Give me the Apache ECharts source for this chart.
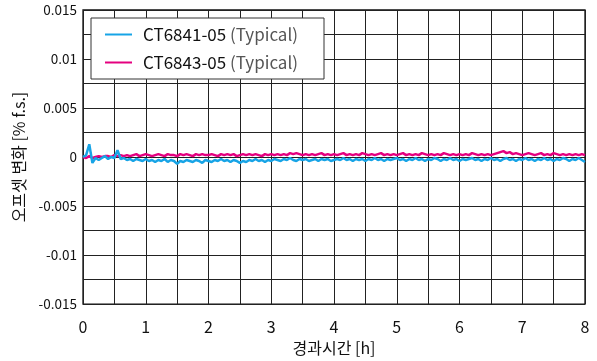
<!DOCTYPE html>
<html><head><meta charset="utf-8">
<script src="https://cdn.jsdelivr.net/npm/echarts@6/dist/echarts.min.js"></script>
<style>html,body{margin:0;padding:0;background:#fff}#c{width:597px;height:361px}</style>
</head><body><div id="c"></div>
<script>
const times = [0,0.05,0.1,0.15,0.2,0.25,0.3,0.35,0.4,0.45,0.5,0.55,0.6,0.65,0.7,0.75,0.8,0.85,0.9,0.95,
1,1.05,1.1,1.15,1.2,1.25,1.3,1.35,1.4,1.45,1.5,1.55,1.6,1.65,1.7,1.75,1.8,1.85,1.9,1.95,
2,2.05,2.1,2.15,2.2,2.25,2.3,2.35,2.4,2.45,2.5,2.55,2.6,2.65,2.7,2.75,2.8,2.85,2.9,2.95,
3,3.05,3.1,3.15,3.2,3.25,3.3,3.35,3.4,3.45,3.5,3.55,3.6,3.65,3.7,3.75,3.8,3.85,3.9,3.95,
4,4.05,4.1,4.15,4.2,4.25,4.3,4.35,4.4,4.45,4.5,4.55,4.6,4.65,4.7,4.75,4.8,4.85,4.9,4.95,
5,5.05,5.1,5.15,5.2,5.25,5.3,5.35,5.4,5.45,5.5,5.55,5.6,5.65,5.7,5.75,5.8,5.85,5.9,5.95,
6,6.05,6.1,6.15,6.2,6.25,6.3,6.35,6.4,6.45,6.5,6.55,6.6,6.65,6.7,6.75,6.8,6.85,6.9,6.95,
7,7.05,7.1,7.15,7.2,7.25,7.3,7.35,7.4,7.45,7.5,7.55,7.6,7.65,7.7,7.75,7.8,7.85,7.9,7.95,8];

const ct6841 = [0,0.0002,0.0013,-0.0006,-0.0001,-0.0003,-0.0001,0.0001,-0.0002,0,-0.0001,0.0007,-0.0002,-0.0001,-0.0003,-0.0002,-0.0004,-0.0002,-0.0003,-0.0004,
-0.0002,-0.0004,-0.0003,-0.0005,-0.0003,-0.0004,-0.0002,-0.0005,-0.0003,-0.0004,-0.0007,-0.0004,-0.0005,-0.0003,-0.0004,-0.0005,-0.0003,-0.0004,-0.0006,-0.0003,
-0.0004,-0.0005,-0.0003,-0.0004,-0.0002,-0.0004,-0.0003,-0.0005,-0.0003,-0.0004,-0.0006,-0.0004,-0.0005,-0.0003,-0.0004,-0.0002,-0.0004,-0.0003,-0.0005,-0.0003,
-0.0004,-0.0002,-0.0003,-0.0004,-0.0002,-0.0003,-0.0001,-0.0003,-0.0004,-0.0002,-0.0003,-0.0002,-0.0004,-0.0003,-0.0002,-0.0004,-0.0002,-0.0003,-0.0002,-0.0004,
-0.0003,-0.0002,-0.0003,-0.0001,-0.0003,-0.0002,-0.0004,-0.0002,-0.0003,-0.0002,-0.0004,-0.0002,-0.0003,-0.0001,-0.0003,-0.0002,-0.0004,-0.0002,-0.0003,-0.0002,
-0.0001,-0.0003,-0.0002,-0.0004,-0.0002,-0.0003,-0.0001,-0.0003,-0.0002,-0.0004,-0.0002,-0.0003,-0.0001,-0.0002,-0.0004,-0.0002,-0.0003,-0.0001,-0.0003,-0.0002,
-0.0004,-0.0002,-0.0003,-0.0002,-0.0001,-0.0003,-0.0002,-0.0004,-0.0002,-0.0003,-0.0001,-0.0003,-0.0002,-0.0004,-0.0002,-0.0001,-0.0003,-0.0002,-0.0004,-0.0002,
-0.0003,-0.0001,-0.0003,-0.0002,-0.0004,-0.0002,-0.0003,-0.0001,-0.0003,-0.0002,-0.0004,-0.0002,-0.0003,-0.0001,-0.0002,-0.0004,-0.0002,-0.0003,-0.0001,-0.0003,-0.0005];

const ct6843 = [0,-0.0001,0.0001,-0.0001,0,0.0001,0,0.0001,0.0001,0,0.0002,0.0001,0.0002,0.0001,0.0002,0.0001,0.0002,0.0003,0.0001,0.0002,
0.0003,0.0002,0.0001,0.0002,0.0003,0.0002,0.0001,0.0003,0.0002,0.0002,0.0001,0.0003,0.0002,0.0003,0.0002,0.0001,0.0003,0.0002,0.0003,0.0002,
0.0002,0.0003,0.0002,0.0001,0.0003,0.0002,0.0003,0.0002,0.0003,0.0001,0.0002,0.0003,0.0002,0.0003,0.0002,0.0003,0.0002,0.0001,0.0003,0.0002,
0.0003,0.0002,0.0003,0.0002,0.0003,0.0002,0.0004,0.0003,0.0004,0.0003,0.0002,0.0003,0.0002,0.0003,0.0002,0.0003,0.0004,0.0002,0.0003,0.0002,
0.0003,0.0002,0.0003,0.0004,0.0002,0.0003,0.0002,0.0003,0.0002,0.0004,0.0003,0.0002,0.0003,0.0002,0.0003,0.0004,0.0002,0.0003,0.0002,0.0003,
0.0002,0.0003,0.0004,0.0002,0.0003,0.0002,0.0003,0.0002,0.0004,0.0003,0.0002,0.0003,0.0002,0.0003,0.0002,0.0004,0.0003,0.0002,0.0003,0.0002,
0.0003,0.0002,0.0003,0.0002,0.0004,0.0003,0.0002,0.0003,0.0002,0.0003,0.0002,0.0003,0.0004,0.0005,0.0006,0.0004,0.0005,0.0003,0.0004,0.0003,
0.0002,0.0003,0.0004,0.0003,0.0002,0.0003,0.0004,0.0002,0.0003,0.0002,0.0004,0.0003,0.0002,0.0003,0.0002,0.0003,0.0002,0.0003,0.0002,0.0003,0.0002];

const seriesNames = ['CT6841-05 (Typical)','CT6843-05 (Typical)'];
const yTickLabels = ['0.015','0.01','0.005','0','-0.005','-0.01','-0.015'];
const xTickLabels = ['0','1','2','3','4','5','6','7','8'];

const FONT = '"Noto Sans CJK KR","Noto Sans",sans-serif';
const chart = echarts.init(document.getElementById('c'), null, {renderer:'canvas'});
const pairs = arr => arr.map((v,i)=>[times[i], v]);

chart.setOption({
  animation:false,
  textStyle:{fontFamily:FONT},
  grid:{left:83, right:12, top:10, bottom:51, show:true, borderColor:'#111', borderWidth:1.3, backgroundColor:'#fff'},
  legend:{
    orient:'vertical', left:91, top:18,
    backgroundColor:'#fff', borderColor:'#333', borderWidth:1,
    padding:[7,26,7,14], itemGap:9,
    icon:'rect', itemWidth:27, itemHeight:2,
    textStyle:{fontFamily:FONT, fontSize:17, color:'#111', lineHeight:19,
      rich:{a:{fontFamily:FONT,fontSize:17,color:'#111',lineHeight:19,padding:[0,0,0,6]},
            b:{fontFamily:FONT,fontSize:17,color:'#555',lineHeight:19}}},
    formatter: n => { const i = n.indexOf(' '); return '{a|'+n.slice(0,i)+'} {b|'+n.slice(i+1)+'}'; },
    data: seriesNames
  },
  xAxis:{
    type:'value', min:0, max:8, interval:0.5,
    name:'경과시간 [h]', nameLocation:'middle', nameGap:34,
    nameTextStyle:{fontFamily:FONT, fontSize:16, color:'#111'},
    axisLine:{show:false}, axisTick:{show:false},
    axisLabel:{fontFamily:FONT, fontSize:16, color:'#111', margin:15,
      formatter: v => { const r = Math.round(v*2); return r%2===0 ? xTickLabels[r/2] : ''; }},
    splitLine:{show:true, lineStyle:{color:'#222', width:1}}
  },
  yAxis:{
    type:'value', min:-0.015, max:0.015, interval:0.0025,
    name:'오프셋 변화 [% f.s.]', nameLocation:'middle', nameGap:56, nameRotate:90,
    nameTextStyle:{fontFamily:FONT, fontSize:16, color:'#111'},
    axisLine:{show:false}, axisTick:{show:false},
    axisLabel:{fontFamily:FONT, fontSize:13.5, color:'#111', margin:6,
      formatter: v => { const r = Math.round(v*10000); return r%50===0 ? yTickLabels[6 - (r+150)/50] : ''; }},
    splitLine:{show:true, lineStyle:{color:'#222', width:1}}
  },
  series:[
    {name:seriesNames[0], type:'line', data:pairs(ct6841), symbol:'none', z:3,
     lineStyle:{color:'#17a4e6', width:2.5}, itemStyle:{color:'#17a4e6'}},
    {name:seriesNames[1], type:'line', data:pairs(ct6843), symbol:'none', z:2,
     lineStyle:{color:'#e4007f', width:2.5}, itemStyle:{color:'#e4007f'}}
  ]
});
</script></body></html>
